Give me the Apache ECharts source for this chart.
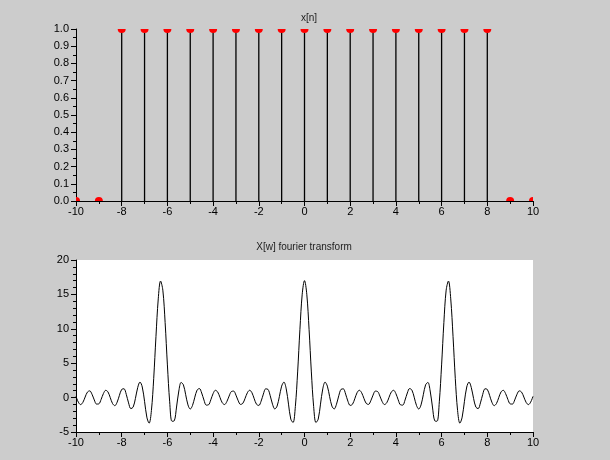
<!DOCTYPE html>
<html>
<head>
<meta charset="utf-8">
<script src="https://cdn.jsdelivr.net/npm/echarts@6/dist/echarts.min.js"></script>
<style>
html,body{margin:0;padding:0;background:#cccccc;}
#c{width:610px;height:460px;}
</style>
</head>
<body>
<div id="c"></div>
<script>
// Top plot: discrete signal x[n]
const nValues = [-10,-9,-8,-7,-6,-5,-4,-3,-2,-1,0,1,2,3,4,5,6,7,8,9,10];
const xnValues = [0,0,1,1,1,1,1,1,1,1,1,1,1,1,1,1,1,1,1,0,0];

// Bottom plot: X(w)
const wValues = [
-10.0,-9.9,-9.8,-9.7,-9.6,-9.5,-9.4,-9.3,-9.2,-9.1,
-9.0,-8.9,-8.8,-8.7,-8.6,-8.5,-8.4,-8.3,-8.2,-8.1,
-8.0,-7.9,-7.8,-7.7,-7.6,-7.5,-7.4,-7.3,-7.2,-7.1,
-7.0,-6.9,-6.8,-6.7,-6.6,-6.5,-6.4,-6.3,-6.2,-6.1,
-6.0,-5.9,-5.8,-5.7,-5.6,-5.5,-5.4,-5.3,-5.2,-5.1,
-5.0,-4.9,-4.8,-4.7,-4.6,-4.5,-4.4,-4.3,-4.2,-4.1,
-4.0,-3.9,-3.8,-3.7,-3.6,-3.5,-3.4,-3.3,-3.2,-3.1,
-3.0,-2.9,-2.8,-2.7,-2.6,-2.5,-2.4,-2.3,-2.2,-2.1,
-2.0,-1.9,-1.8,-1.7,-1.6,-1.5,-1.4,-1.3,-1.2,-1.1,
-1.0,-0.9,-0.8,-0.7,-0.6,-0.5,-0.4,-0.3,-0.2,-0.1,
0.0,
0.1,0.2,0.3,0.4,0.5,0.6,0.7,0.8,0.9,1.0,
1.1,1.2,1.3,1.4,1.5,1.6,1.7,1.8,1.9,2.0,
2.1,2.2,2.3,2.4,2.5,2.6,2.7,2.8,2.9,3.0,
3.1,3.2,3.3,3.4,3.5,3.6,3.7,3.8,3.9,4.0,
4.1,4.2,4.3,4.4,4.5,4.6,4.7,4.8,4.9,5.0,
5.1,5.2,5.3,5.4,5.5,5.6,5.7,5.8,5.9,6.0,
6.1,6.2,6.3,6.4,6.5,6.6,6.7,6.8,6.9,7.0,
7.1,7.2,7.3,7.4,7.5,7.6,7.7,7.8,7.9,8.0,
8.1,8.2,8.3,8.4,8.5,8.6,8.7,8.8,8.9,9.0,
9.1,9.2,9.3,9.4,9.5,9.6,9.7,9.8,9.9,10.0
];
const XwValues = [
0.18,-0.64,-1.02,-0.70,0.08,0.80,0.98,0.49,-0.34,-0.94,
-0.91,-0.26,0.59,1.06,0.82,-0.01,-0.87,-1.17,-0.67,0.33,
1.19,1.28,0.47,-0.77,-1.60,-1.39,-0.13,1.45,2.26,1.54,
-0.54,-2.84,-3.72,-1.89,2.75,8.90,14.35,16.94,15.62,10.93,
4.75,-0.61,-3.44,-3.37,-1.37,0.96,2.20,1.86,0.42,-1.06,
-1.66,-1.13,0.06,1.09,1.32,0.67,-0.36,-1.09,-1.05,-0.32,
0.58,1.06,0.82,0.04,-0.75,-1.01,-0.59,0.22,0.88,0.94,
0.36,-0.47,-0.99,-0.84,-0.11,0.71,1.07,0.71,-0.17,-0.97,
-1.14,-0.53,0.51,1.27,1.20,0.27,-0.96,-1.65,-1.24,0.14,
1.67,2.25,1.27,-0.95,-3.13,-3.62,-1.29,3.73,9.93,15.03,
17.00,
15.03,9.93,3.73,-1.29,-3.62,-3.13,-0.95,1.27,2.25,1.67,
0.14,-1.24,-1.65,-0.96,0.27,1.20,1.27,0.51,-0.53,-1.14,
-0.97,-0.17,0.71,1.07,0.71,-0.11,-0.84,-0.99,-0.47,0.36,
0.94,0.88,0.22,-0.59,-1.01,-0.75,0.04,0.82,1.06,0.58,
-0.32,-1.05,-1.09,-0.36,0.67,1.32,1.09,0.06,-1.13,-1.66,
-1.06,0.42,1.86,2.20,0.96,-1.37,-3.37,-3.44,-0.61,4.75,
10.93,15.62,16.94,14.35,8.90,2.75,-1.89,-3.72,-2.84,-0.54,
1.54,2.26,1.45,-0.13,-1.39,-1.60,-0.77,0.47,1.28,1.19,
0.33,-0.67,-1.17,-0.87,-0.01,0.82,1.06,0.59,-0.26,-0.91,
-0.94,-0.34,0.49,0.98,0.80,0.08,-0.70,-1.02,-0.64,0.18
];

const topYTicks = [0,0.1,0.2,0.3,0.4,0.5,0.6,0.7,0.8,0.9,1.0];
const bottomYTicks = [-5,0,5,10,15,20];

const FONT = 'Liberation Sans, Arial, sans-serif';

function axisCommon(min, max, interval, minorSplit, fmt) {
  return {
    type: 'value', min: min, max: max, interval: interval,
    splitLine: {show: false},
    axisLine: {show: true, onZero: false, lineStyle: {color: '#000', width: 1}},
    axisTick: {show: true, inside: false, length: 5, lineStyle: {color: '#000', width: 1}},
    minorTick: {show: true, splitNumber: minorSplit, length: 3, lineStyle: {color: '#000', width: 1}},
    axisLabel: {color: '#000', fontFamily: FONT, fontSize: 11, formatter: fmt}
  };
}

const chart = echarts.init(document.getElementById('c'), null, {renderer: 'canvas'});

const stemData = nValues.map((n, i) => [n, xnValues[i]]);
const curveData = wValues.map((w, i) => [w, XwValues[i]]);

const xTop = axisCommon(-10, 10, 2, 2);
xTop.gridIndex = 0; xTop.axisLabel.margin = 5;
const xBot = axisCommon(-10, 10, 2, 2);
xBot.gridIndex = 1; xBot.axisLabel.margin = 5;
const yTop = axisCommon(0, 1, 0.1, 2, v => topYTicks.includes(Math.round(v*10)/10) ? v.toFixed(1) : '');
yTop.gridIndex = 0; yTop.axisLabel.margin = 7;
const yBot = axisCommon(-5, 20, 5, 5, v => bottomYTicks.includes(v) ? String(v) : '');
yBot.gridIndex = 1; yBot.axisLabel.margin = 7;

chart.setOption({
  backgroundColor: '#cccccc',
  animation: false,
  title: [
    {text: 'x[n]', left: 304, top: 8, textAlign: 'center',
     textStyle: {fontFamily: FONT, fontSize: 10, fontWeight: 'normal', color: '#222'}},
    {text: 'X[w] fourier transform', left: 299, top: 237, textAlign: 'center',
     textStyle: {fontFamily: FONT, fontSize: 10, fontWeight: 'normal', color: '#222'}}
  ],
  grid: [
    {left: 76, top: 29, width: 457, height: 172, show: false},
    {left: 76, top: 260, width: 457, height: 172, show: true, backgroundColor: '#ffffff', borderWidth: 0}
  ],
  xAxis: [xTop, xBot],
  yAxis: [yTop, yBot],
  series: [
    {
      type: 'custom',
      xAxisIndex: 0, yAxisIndex: 0,
      clip: true,
      data: stemData,
      renderItem: function (params, api) {
        const p0 = api.coord([api.value(0), 0]);
        const p1 = api.coord([api.value(0), api.value(1)]);
        return {
          type: 'group',
          children: [
            {type: 'line', shape: {x1: p0[0], y1: p0[1], x2: p1[0], y2: p1[1]},
             style: {stroke: '#000', lineWidth: 1.3}},
            {type: 'circle', shape: {cx: p1[0], cy: p1[1], r: 4},
             style: {fill: '#ff0000', stroke: null}}
          ]
        };
      }
    },
    {
      type: 'line',
      xAxisIndex: 1, yAxisIndex: 1,
      data: curveData,
      showSymbol: false,
      smooth: 0.35,
      clip: true,
      lineStyle: {color: '#000', width: 1}
    }
  ]
});
</script>
</body>
</html>
